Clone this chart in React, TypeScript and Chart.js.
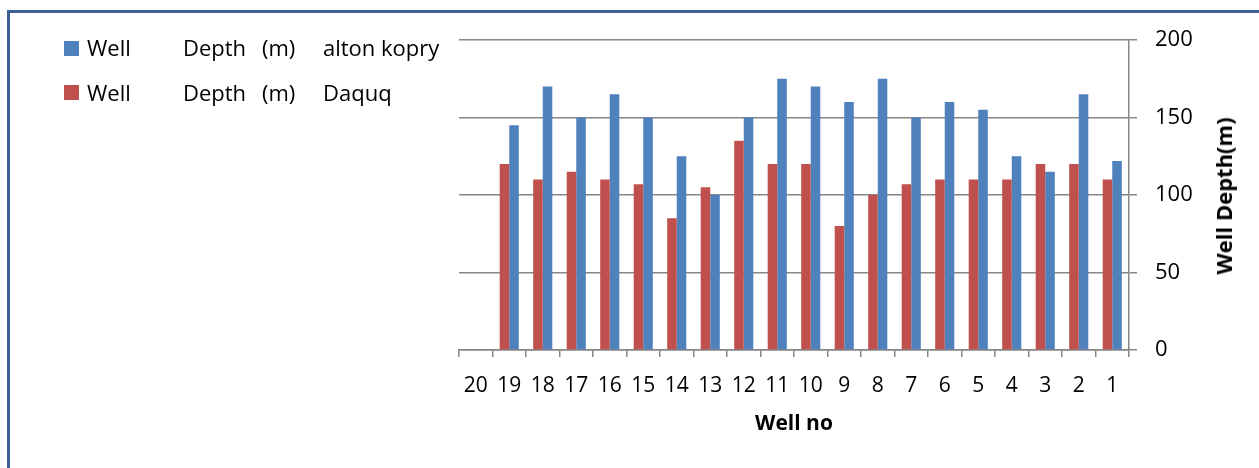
import React, { useEffect, useRef } from "react";
import { Chart, registerables } from "chart.js";

Chart.register(...registerables);

const categories = ["20", "19", "18", "17", "16", "15", "14", "13", "12", "11", "10", "9", "8", "7", "6", "5", "4", "3", "2", "1"];
const daquq: (number | null)[] = [null, 120, 110, 115, 110, 107, 85, 105, 135, 120, 120, 80, 100, 107, 110, 110, 110, 120, 120, 110];
const altonKopry: (number | null)[] = [null, 145, 170, 150, 165, 150, 125, 100, 150, 175, 170, 160, 175, 150, 160, 155, 125, 115, 165, 122];
const yTicks = [0, 50, 100, 150, 200];

const FONT = "'Open Sans', 'Liberation Sans', sans-serif";
const BLUE = "#4f81bd";
const RED = "#c0504d";
const GRID = "#868686";

export default function App() {
  const canvasRef = useRef<HTMLCanvasElement | null>(null);

  useEffect(() => {
    if (!canvasRef.current) return;
    const chart = new Chart(canvasRef.current, {
      type: "bar",
      data: {
        labels: categories,
        datasets: [
          { label: "Well Depth (m) Daquq", data: daquq, backgroundColor: RED, barPercentage: 1, categoryPercentage: 0.57 },
          { label: "Well Depth (m) alton kopry", data: altonKopry, backgroundColor: BLUE, barPercentage: 1, categoryPercentage: 0.57 },
        ],
      },
      options: {
        animation: false,
        responsive: true,
        maintainAspectRatio: false,
        layout: { padding: { left: 459, top: 40, right: 0, bottom: 0 } },
        plugins: { legend: { display: false }, tooltip: { enabled: false } },
        scales: {
          x: {
            grid: { display: true, drawOnChartArea: false, drawTicks: true, tickLength: 7, color: GRID, lineWidth: 1.5, offset: true },
            border: { display: true, color: GRID, width: 1.5 },
            ticks: { color: "#000", font: { family: FONT, size: 21 }, padding: 16, maxRotation: 0, autoSkip: false },
            title: { display: true, text: "Well no", color: "#000", font: { family: FONT, size: 21, weight: "bold" }, padding: { top: 0, bottom: 31 } },
            afterFit: (s: any) => { s.height = 118; },
          },
          y: {
            position: "right",
            min: 0,
            max: 200,
            afterBuildTicks: (s: any) => { s.ticks = yTicks.map((v) => ({ value: v })); },
            grid: { color: GRID, lineWidth: 1.5, tickLength: 8 },
            border: { display: true, color: GRID, width: 1.5 },
            ticks: { color: "#000", font: { family: FONT, size: 22 }, padding: 18 },
            afterFit: (s: any) => { s.width = 130; },
          },
        },
      },
    });
    return () => chart.destroy();
  }, []);

  const txt: React.CSSProperties = { position: "absolute", fontFamily: FONT, fontSize: 22, color: "#000", lineHeight: "26px", whiteSpace: "pre" };

  return (
    <div style={{ position: "absolute", left: 0, top: 0, width: 1259, height: 468, overflow: "hidden", background: "#fff" }}>
      <div style={{ position: "absolute", left: 7, top: 10, width: 1300, height: 600, borderTop: "3px solid #3b6195", borderLeft: "3px solid #3b6195" }} />
      <div style={{ position: "absolute", left: 0, top: 0, width: 1259, height: 468 }}>
        <canvas ref={canvasRef} />
      </div>
      <div style={{ position: "absolute", left: 64, top: 41, width: 15, height: 15, background: BLUE }} />
      <span style={{ ...txt, left: 87, top: 34 }}>Well</span>
      <span style={{ ...txt, left: 183, top: 34 }}>Depth</span>
      <span style={{ ...txt, left: 262, top: 34 }}>(m)</span>
      <span style={{ ...txt, left: 323, top: 34 }}>alton kopry</span>
      <div style={{ position: "absolute", left: 64, top: 85, width: 15, height: 15, background: RED }} />
      <span style={{ ...txt, left: 87, top: 79 }}>Well</span>
      <span style={{ ...txt, left: 183, top: 79 }}>Depth</span>
      <span style={{ ...txt, left: 262, top: 79 }}>(m)</span>
      <span style={{ ...txt, left: 323, top: 79 }}>Daquq</span>
      <div style={{ position: "absolute", left: 1223, top: 196, width: 0, height: 0 }}>
        <div style={{ position: "absolute", left: 0, top: 0, transform: "translate(-50%, -50%) rotate(-90deg)", fontFamily: FONT, fontSize: 22, fontWeight: "bold", whiteSpace: "nowrap", lineHeight: "26px", color: "#000" }}>
          Well Depth(m)
        </div>
      </div>
    </div>
  );
}
